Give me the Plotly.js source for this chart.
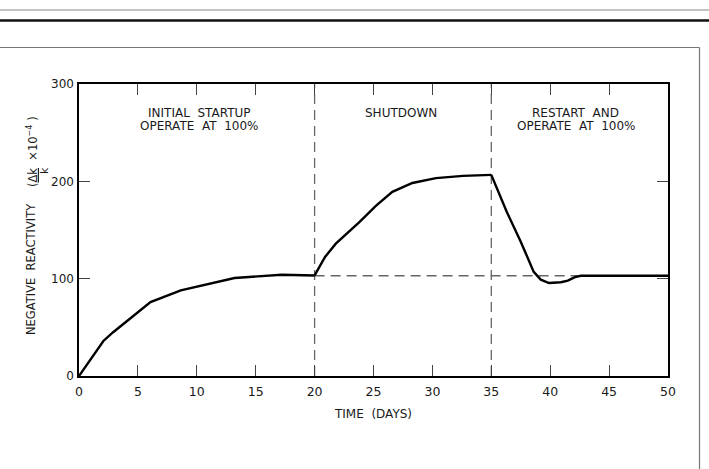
<!DOCTYPE html>
<html>
<head>
<meta charset="utf-8">
<script src="https://cdn.plot.ly/plotly-3.0.1.min.js"></script>
<style>html,body{margin:0;padding:0;background:#fff;}#chart{width:709px;height:469px;}</style>
</head>
<body>
<div id="chart"></div>
<script>
// Phase 1: initial startup, operate at 100%
var startupDays = [0, 2.07, 2.9, 6.07, 8.64, 13.2, 17.2, 20];
var startupReact = [0, 36, 45, 76, 88, 100.7, 104, 103.3];
// Phase 2: shutdown
var shutdownDays = [20, 20.9, 21.8, 23.8, 25.2, 26.6, 28.3, 30.3, 32.6, 35];
var shutdownReact = [103.3, 122.5, 136, 158, 174.7, 189.2, 198.3, 203.3, 205.6, 206.6];
// Phase 3: restart and operate at 100%
var restartDays = [35, 36.3, 37.5, 38.6, 39.2, 39.9, 40.9, 41.5, 42.1, 42.6, 50];
var restartReact = [206.6, 169, 138, 107, 99, 95.5, 96.3, 98, 101.5, 103, 103];
// Reference equilibrium level and phase boundaries
var equilibriumLevel = 103;
var boundaryDays = [20, 35];
var phaseLabelsTop = ["INITIAL  STARTUP", "SHUTDOWN", "RESTART  AND"];
var phaseLabelsBottom = ["OPERATE  AT  100%", "", "OPERATE  AT  100%"];
var phaseCenters = [10.2, 27.35, 42.15];
var xTicks = [0, 5, 10, 15, 20, 25, 30, 35, 40, 45, 50];
var yTicks = [0, 100, 200, 300];

var W = 709, H = 469, L = 79, R = 41, T = 84, B = 93;
var pw = W - L - R, ph = H - T - B;
function px(x){ return (x - L) / pw; }
function py(y){ return (H - B - y) / ph; }

var font = "DejaVu Sans, sans-serif";
var ink = '#1a1a1a';
var curveLine = {color: '#000', width: 2.4};
var traces = [
  {x: startupDays, y: startupReact, mode: 'lines', line: curveLine, hoverinfo: 'skip'},
  {x: shutdownDays, y: shutdownReact, mode: 'lines', line: curveLine, hoverinfo: 'skip'},
  {x: restartDays, y: restartReact, mode: 'lines', line: curveLine, hoverinfo: 'skip'}
];

var dash = {color: '#666', width: 1.3, dash: '10px,6px'};
var shapes = [
  {type: 'line', xref: 'x', yref: 'y', x0: boundaryDays[0], x1: 50, y0: equilibriumLevel, y1: equilibriumLevel, line: dash, layer: 'below'},
  {type: 'line', xref: 'x', yref: 'paper', x0: boundaryDays[0], x1: boundaryDays[0], y0: 0, y1: 1, line: dash, layer: 'below'},
  {type: 'line', xref: 'x', yref: 'paper', x0: boundaryDays[1], x1: boundaryDays[1], y0: 0, y1: 1, line: dash, layer: 'below'},
  // page decoration
  {type: 'line', xref: 'paper', yref: 'paper', x0: px(0), x1: px(709), y0: py(10), y1: py(10), line: {color: '#888', width: 1.2}},
  {type: 'line', xref: 'paper', yref: 'paper', x0: px(0), x1: px(709), y0: py(20.5), y1: py(20.5), line: {color: '#111', width: 2.5}},
  {type: 'line', xref: 'paper', yref: 'paper', x0: px(0), x1: px(699.5), y0: py(47.5), y1: py(47.5), line: {color: '#777', width: 1.2}},
  {type: 'line', xref: 'paper', yref: 'paper', x0: px(699.5), x1: px(699.5), y0: py(47.5), y1: py(469), line: {color: '#777', width: 1.2}}
];

var annotations = [];
for (var i = 0; i < phaseLabelsTop.length; i++) {
  annotations.push({x: phaseCenters[i], y: py(112.5), xref: 'x', yref: 'paper', xanchor: 'center', yanchor: 'middle',
    text: phaseLabelsTop[i], showarrow: false, font: {family: font, size: 12, color: ink}});
  if (phaseLabelsBottom[i]) {
    annotations.push({x: phaseCenters[i], y: py(126), xref: 'x', yref: 'paper', xanchor: 'center', yanchor: 'middle',
      text: phaseLabelsBottom[i], showarrow: false, font: {family: font, size: 12, color: ink}});
  }
}
// y-axis title, built from rotated pieces
function rot(text, x, y, size){
  return {x: px(x), y: py(y), xref: 'paper', yref: 'paper', xanchor: 'center', yanchor: 'middle',
    textangle: -90, showarrow: false, text: text, font: {family: font, size: size, color: ink}};
}
annotations.push(rot("NEGATIVE  REACTIVITY", 31, 269, 11.5));
annotations.push(rot("(<u>Δk</u>  ×10<sup>−4</sup> )", 32, 152, 11.5));
annotations.push(rot("k", 44, 171, 11));

var axisCommon = {
  showline: true, linecolor: '#000', linewidth: 1.6, mirror: 'ticks',
  ticks: 'inside', ticklen: 11, tickwidth: 1, tickcolor: '#444',
  showgrid: false, zeroline: false, fixedrange: true,
  tickfont: {family: font, size: 12.5, color: ink}
};

var layout = {
  width: W, height: H,
  margin: {l: L, r: R, t: T, b: B, pad: 0},
  paper_bgcolor: '#fff', plot_bgcolor: '#fff',
  showlegend: false,
  xaxis: Object.assign({}, axisCommon, {range: [0, 50], tickvals: xTicks, ticklabelstandoff: 3,
    title: {text: 'TIME  (DAYS)', font: {family: font, size: 12, color: ink}, standoff: 12}}),
  yaxis: Object.assign({}, axisCommon, {range: [0, 300], tickvals: yTicks, ticklabelstandoff: 1,
    tickfont: {family: font, size: 12, color: ink}}),
  shapes: shapes,
  annotations: annotations
};

Plotly.newPlot('chart', traces, layout, {displayModeBar: false, staticPlot: true});
</script>
</body>
</html>
